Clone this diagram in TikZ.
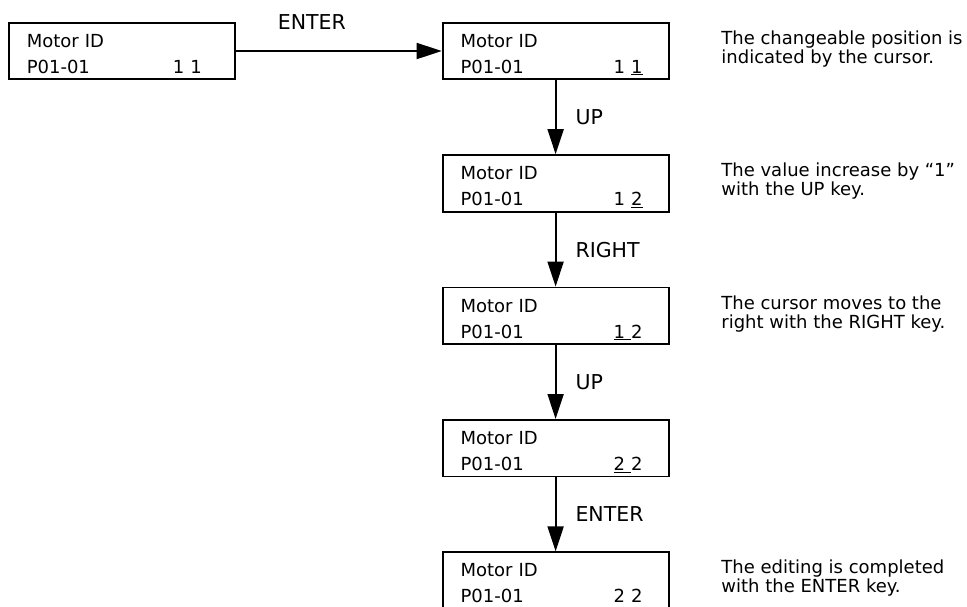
\documentclass[tikz,border=0pt]{standalone}
\usepackage{fontspec}
\setmainfont{DejaVu Sans}
\usepackage{tikz}
\usetikzlibrary{arrows.meta, positioning}
\newcommand{\dispval}[2][8pt]{Motor ID\\P01-01\hfill\hbox{#2\kern#1}}
\tikzstyle{dispbox} = [rectangle, draw=black, line width=1.8pt, minimum width=226pt, minimum height=56.6pt,
  inner sep=0pt, text width=190pt, align=left, text height=18.4pt, text depth=26pt,
  font=\fontsize{18}{26}\selectfont]
\tikzstyle{note} = [inner sep=0pt, align=left, font=\fontsize{18}{19}\selectfont]
\tikzstyle{keylabel} = [inner sep=0pt, font=\fontsize{20.5}{24}\selectfont]
\tikzstyle{arrow} = [line width=1.8pt, -{Triangle[length=25pt, width=16pt]}]
\begin{document}
\begin{tikzpicture}
  \useasboundingbox (0,0) rectangle (967pt,-606pt);

  % Initial display
  \node (m1) [dispbox] at (121.8pt,-51pt) {\dispval[15pt]{1 1}};

  % Editing steps
  \node (m2) [dispbox, right=206pt of m1] {\dispval{1 \underline{1}}};
  \node (m3) [dispbox, below=74pt of m2] {\dispval{1 \underline{2}}};
  \node (m4) [dispbox, below=74pt of m3] {\dispval{\underline{1\ }2}};
  \node (m5) [dispbox, below=74pt of m4] {\dispval{\underline{2\ }2}};
  \node (m6) [dispbox, below=74pt of m5] {\dispval{2 2}};

  % Notes
  \node (n2) [note, below right=8.6pt and 51.7pt of m2.north east]
    {The changeable position is\\indicated by the cursor.};
  \node (n3) [note, below right=8.6pt and 51.7pt of m3.north east]
    {The value increase by “1”\\with the UP key.};
  \node (n4) [note, below right=8.6pt and 51.7pt of m4.north east]
    {The cursor moves to the\\right with the RIGHT key.};
  \node (n6) [note, below right=8.6pt and 51.7pt of m6.north east]
    {The editing is completed\\with the ENTER key.};

  \draw[arrow] (m1) -- node[keylabel, above=21pt, pos=0.37] {ENTER} (m2);
  \draw[arrow] (m2) -- node[keylabel, right=19pt] {UP} (m3);
  \draw[arrow] (m3) -- node[keylabel, right=19pt] {RIGHT} (m4);
  \draw[arrow] (m4) -- node[keylabel, right=19pt] {UP} (m5);
  \draw[arrow] (m5) -- node[keylabel, right=19pt] {ENTER} (m6);
\end{tikzpicture}
\end{document}
